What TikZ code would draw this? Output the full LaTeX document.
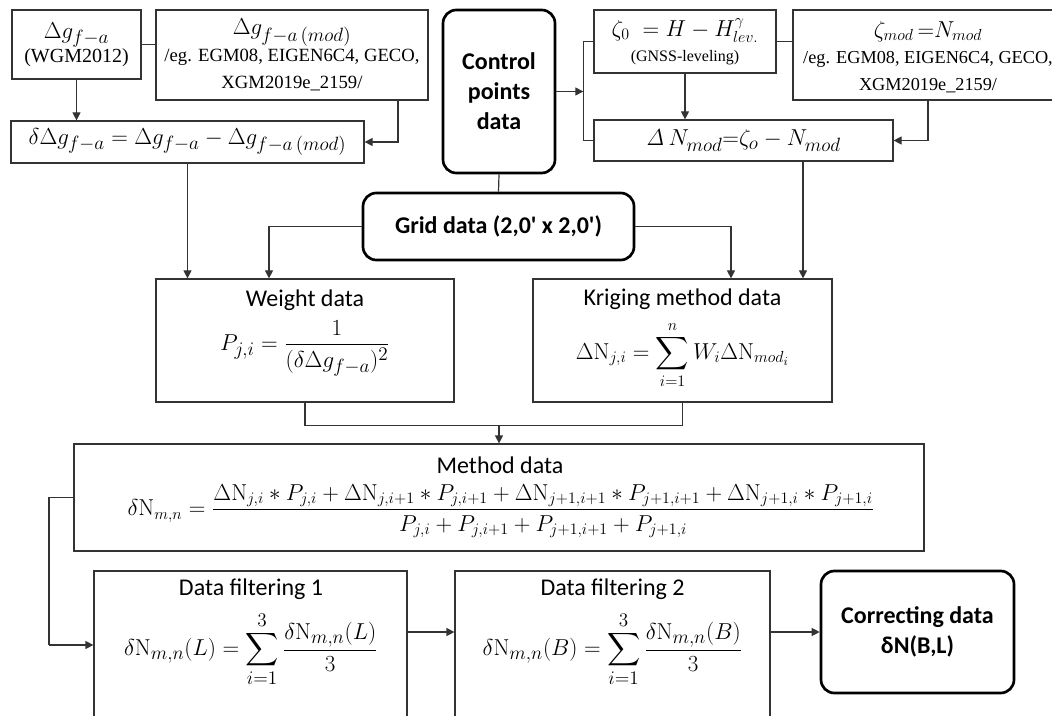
\documentclass[tikz,border=0pt]{standalone}
\usepackage[no-math]{fontspec}
\setmainfont{Carlito}
\newfontfamily\serifx{Liberation Serif}
\usepackage{amsmath}
\usetikzlibrary{arrows.meta,calc}
\tikzset{
  sz/.style 2 args={minimum width=#1*0.75pt, minimum height=#2*0.75pt},
  box/.style={draw=black!80, line width=0.9pt, rectangle, inner sep=0pt, align=center},
  rbox/.style={draw=black, line width=2pt, rounded corners=10pt, inner sep=0pt, align=center,
    font=\bfseries\fontsize{18}{22.5}\selectfont},
  conn/.style={draw=black!80, line width=0.9pt},
  arr/.style={conn, -{Triangle[length=6pt,width=6pt]}},
  lbl/.style={inner sep=0pt, font=\fontsize{18}{21}\selectfont},
  frm/.style={inner sep=0pt, anchor=north},
  ser/.style={font=\serifx\fontsize{14}{20}\selectfont}
}
\newcommand{\msz}[1]{\fontsize{#1}{#1}\selectfont}
\begin{document}
\begin{tikzpicture}[x=0.75pt,y=-0.75pt]
\clip (0,0) rectangle (1052,716);
\fill[white] (0,0) rectangle (1052,716);
% top left
\node[box, sz={129}{69}, font=\msz{19}] (A) at (76.5,44.5)
  {$\Delta g_{f-a}$\\[-1pt]{\serifx\fontsize{15}{18}\selectfont (WGM2012)}};
\node[box, sz={272}{90}, ser] (B) at (292,55)
  {{\msz{19}$\Delta g_{f-a\,(mod)}$}\\/eg. EGM08, EIGEN6C4, GECO,\\XGM2019e\_2159/};
\node[box, sz={353}{42}, font=\msz{19}] (C) at (187.5,142)
  {$\delta\Delta g_{f-a} = \Delta g_{f-a} - \Delta g_{f-a\,(mod)}$};
% control
\node[rbox, sz={112}{163}] (Ctrl) at (499,91.5) {Control\\points\\data};
% top right
\node[box, sz={182}{63}, font=\msz{18}] (D) at (685,41.5)
  {$\zeta_0\; = H - H^{\gamma}_{lev.}$\\[1pt]{\serifx\fontsize{12}{14}\selectfont (GNSS-leveling)}};
\node[box, sz={300}{90}] (F) at (943,55) {};
\node[inner sep=0pt, align=center, font=\serifx\fontsize{13.7}{20}\selectfont] (Ft) at (928,57)
  {{\msz{17}$\zeta_{mod}\,{=}N_{mod}$}\\/eg. EGM08, EIGEN6C4, GECO,\\XGM2019e\_2159/};
\node[box, sz={299}{41}, font=\msz{19}] (E) at (743.5,140.5)
  {$\mathit{\Delta}\,N_{mod}{=}\zeta_o - N_{mod}$};
% grid
\node[rbox, sz={271}{67}] (Grid) at (498.5,226.5) {Grid data (2,0\textquotesingle{} x 2,0\textquotesingle)};
% weight & kriging
\node[box, sz={298}{123}] (Weight) at (305,340.5) {};
\node[lbl] (Wt) at (305,300) {Weight data};
\node[frm, font=\msz{19}] (Wf) at (305,320) {$\displaystyle P_{j,i} = \frac{1}{(\delta\Delta g_{f-a})^2}$};
\node[box, sz={299}{123}] (Kriging) at (682.5,340.5) {};
\node[lbl] (Kt) at (682.5,299) {Kriging method data};
\node[frm, font=\msz{18}] (Kf) at (682.5,321) {$\displaystyle \Delta\mathrm{N}_{j,i} = \sum_{i=1}^{n} W_i\Delta\mathrm{N}_{{mod}_i}$};
% method
\node[box, sz={850}{107}] (Method) at (499,497.5) {};
\node[lbl] (Mt) at (500,465) {Method data};
\node[frm, font=\msz{18.5}] (Mf) at (501,484) {$\displaystyle \delta\mathrm{N}_{m,n} = \frac{\Delta\mathrm{N}_{j,i} * P_{j,i} + \Delta\mathrm{N}_{j,i+1} * P_{j,i+1} + \Delta\mathrm{N}_{j+1,i+1} * P_{j+1,i+1} + \Delta\mathrm{N}_{j+1,i} * P_{j+1,i}}{P_{j,i} + P_{j,i+1} + P_{j+1,i+1} + P_{j+1,i}}$};
% filters
\node[box, sz={313}{189}] (F1) at (250.5,665.5) {};
\node[lbl] (F1t) at (251,589) {Data filtering 1};
\node[frm, font=\msz{19}] (F1f) at (251,612) {$\displaystyle \delta\mathrm{N}_{m,n}(L) = \sum_{i=1}^{3}\frac{\delta\mathrm{N}_{m,n}(L)}{3}$};
\node[box, sz={315}{189}] (F2) at (612.5,665.5) {};
\node[lbl] (F2t) at (612.5,589) {Data filtering 2};
\node[frm, font=\msz{19}] (F2f) at (612.5,612) {$\displaystyle \delta\mathrm{N}_{m,n}(B) = \sum_{i=1}^{3}\frac{\delta\mathrm{N}_{m,n}(B)}{3}$};
\node[rbox, sz={193}{122}] (Corr) at (917.5,632) {Correcting data\\δN(B,L)};
% coordinates
\coordinate (b1) at ($(B.south)+(106,0)$);
\coordinate (J) at ($(Ctrl.east)+(27,0)$);
\coordinate (e1) at ($(E.south)+(59.5,0)$);
\coordinate (w1) at ($(Weight.north)+(-36,0)$);
\coordinate (k1) at ($(Kriging.north)+(48.5,0)$);
\coordinate (M) at ($(Method.north)+(0,-18)$);
\coordinate (K) at (49,645);
% connectors
\draw[conn] (A.east) -- (A.east -| B.west);
\draw[arr] (A.south) -- (A.south |- C.north);
\draw[arr] (b1) |- (C.east);
\draw[arr] (Ctrl.east) -- (J);
\draw[conn] (D.west) -| (J);
\draw[conn] (E.west) -| (J);
\draw[arr] (D.south) -- (D.south |- E.north);
\draw[conn] (D.east) -- (D.east -| F.west);
\draw[arr] (Ft.south |- F.south) |- (E.east);
\draw[conn] (Ctrl.south) -- (Grid.north);
\draw[arr] (Grid.west) -| (w1);
\draw[arr] (Grid.east) -| (k1);
\draw[arr] (C.south) -- (C.south |- Weight.north);
\draw[arr] (e1) -- (e1 |- Kriging.north);
\draw[conn] (Weight.south) |- (M);
\draw[conn] (Kriging.south) |- (M);
\draw[arr] (M) -- (Method.north);
\draw[conn] (Method.west) -| (K);
\draw[arr] (K) -- (K -| F1.west);
\draw[arr] (F1.east |- Corr.west) -- (F2.west |- Corr.west);
\draw[arr] (F2.east |- Corr.west) -- (Corr.west);
\end{tikzpicture}
\end{document}
